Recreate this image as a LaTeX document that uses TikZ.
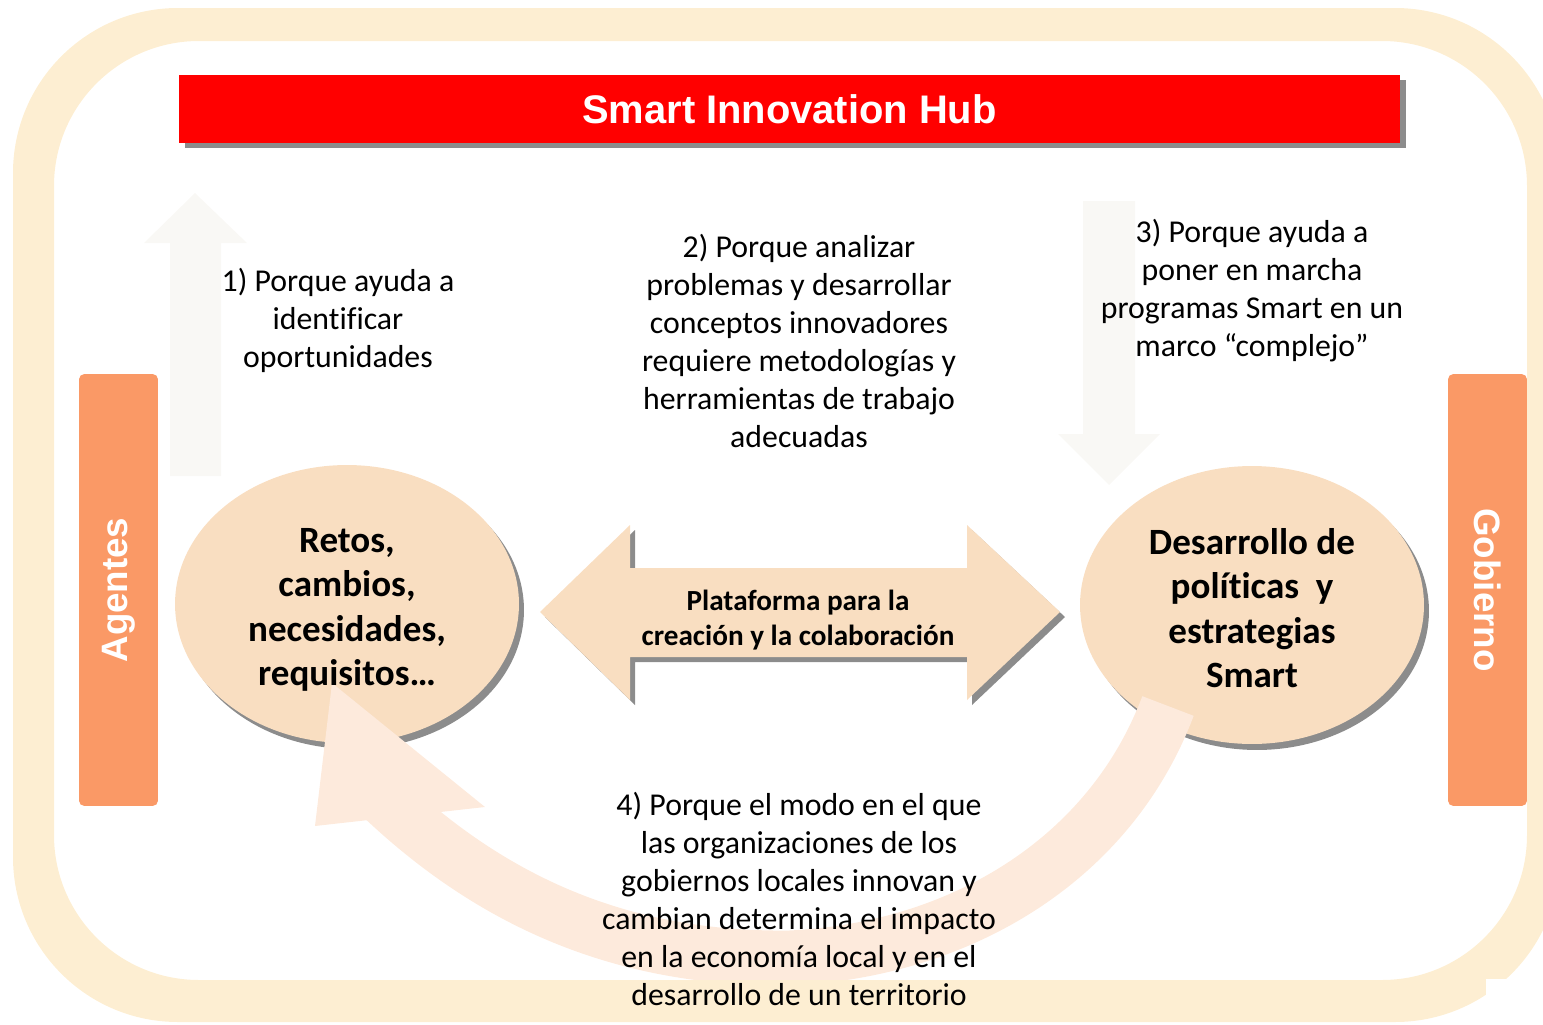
\documentclass[tikz,border=0pt]{standalone}
\usepackage{fontspec}
\setmainfont{Carlito}[Ligatures=NoCommon]
\newfontfamily\hubfont{Liberation Sans}
\usetikzlibrary{shapes.geometric,shadows}
\definecolor{framecream}{HTML}{FDEED2}
\definecolor{hubred}{HTML}{FF0000}
\definecolor{sideorange}{HTML}{FA9966}
\definecolor{bubblepeach}{HTML}{F9DEC1}
\definecolor{looppeach}{HTML}{FDEADC}
\definecolor{ghostgray}{HTML}{F9F8F5}
\begin{document}
\begin{tikzpicture}[x=0.02cm,y=-0.02cm,
  every node/.style={inner sep=0pt,align=center},
  reason/.style={font=\fontsize{18.1}{21.6}\selectfont},
  bubble/.style={ellipse,fill=bubblepeach,minimum width=6.88cm,minimum height=5.56cm,
    drop shadow={shadow xshift=0.1cm,shadow yshift=-0.12cm,fill=black!45,opacity=1}},
  bubbletext/.style={font=\fontsize{21.1}{25.3}\selectfont\bfseries},
  sidebar/.style={fill=sideorange,rounded corners=3pt,minimum width=8.64cm,minimum height=1.58cm,
    text=white,font=\hubfont\fontsize{20.9}{25}\selectfont\bfseries}]
  \clip (0,0) rectangle (1543,1025);
  \fill[ghostgray] (195,193) -- (247,243) -- (221,243) -- (221,476) -- (170,476) -- (170,243) -- (144,243) -- cycle;
  \fill[ghostgray] (1109,485) -- (1160,434) -- (1135,434) -- (1135,201) -- (1083,201) -- (1083,434) -- (1058,434) -- cycle;
  \node[fill=hubred,minimum width=24.42cm,minimum height=1.36cm,text=white,
    font=\hubfont\fontsize{22.7}{27}\selectfont\bfseries,
    drop shadow={shadow xshift=0.12cm,shadow yshift=-0.1cm,fill=black!45,opacity=1}] (hub) at (789.5,109) {Smart Innovation Hub};
  \node[sidebar,rotate=90] (agentes) at (118.5,590) {Agentes};
  \node[sidebar,rotate=-90] (gobierno) at (1487.5,590) {Gobierno};
  \node[bubble] (retos) at (347,604) {};
  \node[bubble] (politicas) at (1252,605) {};
  \begin{scope}[shift={(5,5)}]
    \fill[black!45] (540,612) -- (630,525) -- (630,568) -- (967,568) -- (967,525) -- (1060,612)
      -- (967,700) -- (967,657) -- (630,657) -- (630,700) -- cycle;
  \end{scope}
  \fill[bubblepeach] (540,612) -- (630,525) -- (630,568) -- (967,568) -- (967,525) -- (1060,612)
    -- (967,700) -- (967,657) -- (630,657) -- (630,700) -- cycle;
  \draw[looppeach,line width=31.3pt] (1168,706) .. controls (1110,860) and (960,950) .. (790,958)
    .. controls (620,960) and (490,900) .. (380,795);
  \fill[looppeach] (315,826) -- (332,683) -- (485,807) -- cycle;
  \fill[framecream,even odd rule,rounded corners=93.9pt] (13,8) rectangle (1560,1022)
    [rounded corners=82.5pt] (54,41) rectangle (1527,980);
  \fill[white] (1486,979) rectangle (1543,1025);
  \node[bubbletext] (retostext) at (347,610) {Retos,\\cambios,\\necesidades,\\requisitos…};
  \node[bubbletext] (politicastext) at (1252,608) {Desarrollo de\\políticas~ y\\estrategias\\Smart};
  \node[font=\fontsize{16.6}{19.9}\selectfont\bfseries] (plataforma) at (798,620) {Plataforma para la\\creación y la colaboración};
  \node[reason] (razon1) at (338,320) {1) Porque ayuda a\\identificar\\oportunidades};
  \node[reason] (razon2) at (799,341) {2) Porque analizar\\problemas y desarrollar\\conceptos innovadores\\requiere metodologías y\\herramientas de trabajo\\adecuadas};
  \node[reason] (razon3) at (1252,291) {3) Porque ayuda a\\poner en marcha\\programas Smart en un\\marco “complejo”};
  \node[reason] (razon4) at (799,899) {4) Porque el modo en el que\\las organizaciones de los\\gobiernos locales innovan y\\cambian determina el impacto\\en la economía local y en el\\desarrollo de un territorio};
\end{tikzpicture}
\end{document}
